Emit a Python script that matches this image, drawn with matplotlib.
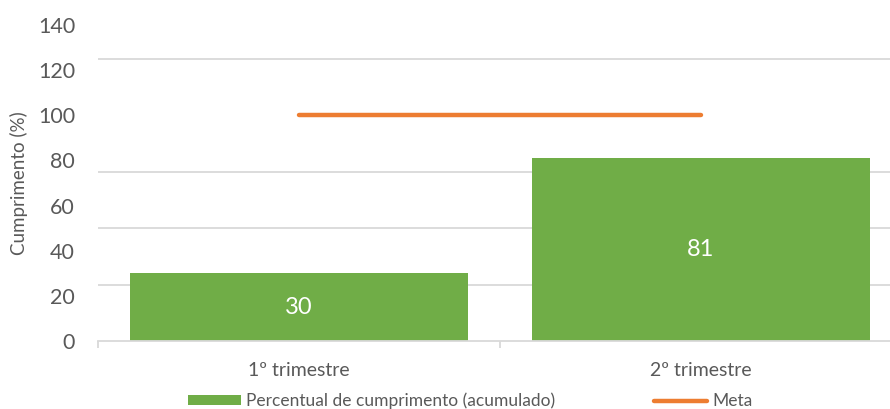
import matplotlib.pyplot as plt
import numpy as np

# data
categories = ['1º trimestre', '2º trimestre']
cumprimento = [30, 81]
meta = [100, 100]
yticks = [0, 20, 40, 60, 80, 100, 120, 140]
grid_vals = [0, 25, 50, 75, 100, 125]

green = '#70AD47'
orange = '#ED7D31'
txt = '#595959'
plt.rcParams['font.family'] = ['Lato', 'DejaVu Sans']

fig = plt.figure(figsize=(8.9, 4.09), dpi=100)
ax = fig.add_axes([98/890, 68/409, 804/890, 316/409])

x = np.arange(len(categories))
bars = ax.bar(x, cumprimento, width=0.84, color=green, zorder=2,
              label='Percentual de cumprimento (acumulado)')
line, = ax.plot(x, meta, color=orange, lw=3.2, solid_capstyle='round', zorder=3, label='Meta')

for xi, v in zip(x, cumprimento):
    ax.text(xi, v / 2, str(v), ha='center', va='center', color='white', fontsize=17)

ax.set_xlim(-0.5, 1.5)
ax.set_ylim(0, 140)
ax.set_yticks(yticks)
ax.set_yticks(grid_vals, minor=True)
ax.tick_params(axis='y', which='both', length=0, labelsize=15.5, labelcolor=txt, pad=16.5)
ax.grid(axis='y', which='minor', color='#D9D9D9', lw=1.3, zorder=0)

ax.set_xticks(x)
ax.set_xticklabels(categories)
ax.set_xticks([-0.5, 0.5, 1.5], minor=True)
ax.tick_params(axis='x', which='major', length=0, labelsize=14, labelcolor=txt, pad=15)
ax.tick_params(axis='x', which='minor', length=5, color='#D9D9D9', width=1.3)

for s in ['top', 'right', 'left']:
    ax.spines[s].set_visible(False)
ax.spines['bottom'].set_color('#D9D9D9')
ax.spines['bottom'].set_linewidth(1.3)

ax.set_ylabel('Cumprimento (%)', fontsize=13.5, color=txt)
ax.yaxis.set_label_coords(-70/804, 0.5)

fig.legend([bars, line], ['Percentual de cumprimento (acumulado)', 'Meta'],
           loc='center', bbox_to_anchor=(470/890, 1 - 401/409), ncol=2, frameon=False,
           fontsize=12.5, labelcolor=txt, handlelength=3.05, handleheight=0.45,
           handletextpad=0.3, columnspacing=5.7)

fig.savefig('out.png', dpi=100)
